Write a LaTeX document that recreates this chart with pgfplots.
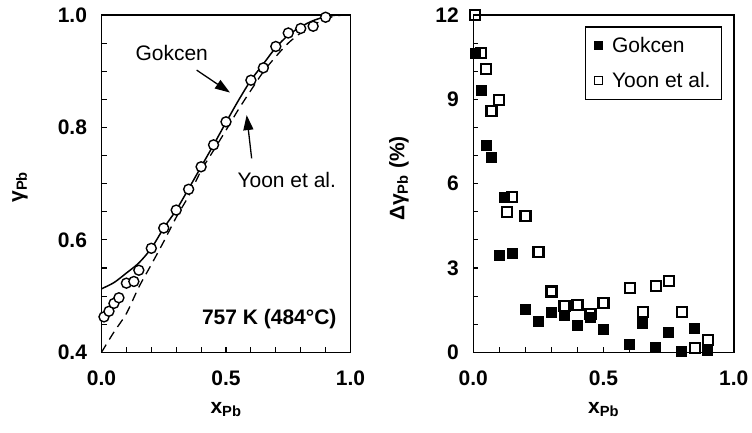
\documentclass[border=0pt]{standalone}
\usepackage{fontspec}
\setmainfont{Liberation Sans}
\usepackage{pgfplots}
\pgfplotsset{compat=1.18}
\usetikzlibrary{arrows.meta}

\newcommand{\lbl}{\fontsize{21}{25}\selectfont}

\pgfplotsset{
  panel/.style={
    scale only axis,
    height=337.3pt,
    axis line style={line width=1.6pt},
    tick pos=left, tick align=inside,
    major tick length=5pt, minor tick length=5pt,
    tick style={line width=1.1pt, black},
    minor tick style={line width=1.1pt, black},
    ticklabel style={font=\lbl\bfseries},
    /pgf/number format/assume math mode=true,
    label style={font=\lbl\bfseries},
    clip=false,
    xmin=0, xmax=1,
    xtick={0,0.5,1}, xticklabels={0.0,0.5,1.0},
    minor xtick={0.1,0.2,0.3,0.4,0.6,0.7,0.8,0.9},
    xticklabel style={yshift=-15pt},
    yticklabel style={xshift=-11pt},
    xlabel={x\textsubscript{Pb}},
    xlabel style={at={(axis description cs:0.5,0)}, anchor=base, yshift=-61pt},
  },
  gokcen/.style={only marks, mark=square*, mark size=5pt, black, mark options={fill=black, line width=1pt}},
  yoon/.style={only marks, mark=square, mark size=5pt, black, mark options={fill=white, line width=2.2pt}},
}

\begin{document}
\begin{tikzpicture}
% fixed page frame
\path (0,0) rectangle (752pt,432pt);

% activity coefficient of Pb at 757 K
\begin{axis}[panel,
  at={(101.5pt,79.7pt)}, anchor=south west,
  width=249pt,
  ymin=0.4, ymax=1.0,
  ytick={0.4,0.6,0.8,1.0}, yticklabels={0.4,0.6,0.8,1.0},
  minor ytick={0.45,0.5,0.55,0.65,0.7,0.75,0.85,0.9,0.95},
  ylabel={γ\textsubscript{Pb}},
  ylabel style={at={(axis description cs:-0.327,0.49)}, anchor=center},
]
% Gokcen
\addplot[line width=1.5pt, smooth, tension=0.5] coordinates {
  (0,0.513) (0.05,0.524) (0.1,0.541) (0.15,0.559) (0.2,0.585)
  (0.25,0.621) (0.3,0.653) (0.35,0.691) (0.4,0.730) (0.45,0.769)
  (0.5,0.809) (0.55,0.848) (0.6,0.884) (0.65,0.913) (0.7,0.942)
  (0.75,0.964) (0.8,0.979) (0.85,0.990) (0.9,0.997) (0.95,1.0) (1.0,1.0)
};
% Yoon et al.
\addplot[line width=1.3pt, dash pattern=on 9pt off 6pt, smooth, tension=0.5] coordinates {
  (0,0.400) (0.05,0.436) (0.1,0.469) (0.15,0.516) (0.2,0.556)
  (0.25,0.597) (0.3,0.640) (0.35,0.678) (0.4,0.723) (0.45,0.759)
  (0.5,0.795) (0.55,0.832) (0.6,0.866) (0.65,0.899) (0.7,0.926)
  (0.75,0.950) (0.8,0.968) (0.85,0.982) (0.9,0.993) (0.95,0.999) (1.0,1.0)
};
% experimental points
\addplot[only marks, mark=*, mark size=5pt, black, mark options={fill=white, line width=1.4pt}] coordinates {
  (0.01,0.463) (0.03,0.473) (0.05,0.487) (0.07,0.497) (0.1,0.523)
  (0.13,0.526) (0.15,0.546) (0.2,0.585) (0.25,0.621) (0.3,0.653)
  (0.35,0.690) (0.4,0.730) (0.45,0.769) (0.5,0.810) (0.6,0.884)
  (0.65,0.906) (0.7,0.944) (0.75,0.968) (0.8,0.976) (0.85,0.980) (0.9,0.996)
};
\node[font=\lbl] at (axis cs:0.282,0.933) {Gokcen};
\draw[line width=1.3pt, -{Triangle[length=15pt,width=10pt]}]
  (axis cs:0.382,0.902) -- (axis cs:0.516,0.862);
\node[font=\lbl] at (axis cs:0.744,0.706) {Yoon et al.};
\draw[line width=1.3pt, -{Triangle[length=15pt,width=10pt]}]
  (axis cs:0.603,0.745) -- (axis cs:0.583,0.822);
\node[font=\lbl\bfseries, anchor=base east] at (axis cs:0.958,0.450) {757 K (484°C)};
\end{axis}

% deviation of the calculated activity coefficients
\begin{axis}[panel,
  at={(473.3pt,79.7pt)}, anchor=south west,
  width=260.5pt,
  ymin=0, ymax=12,
  ytick={0,3,6,9,12}, yticklabels={0,3,6,9,12},
  minor ytick={1,2,4,5,7,8,10,11},
  ylabel={Δγ\textsubscript{Pb} (\%)},
  ylabel style={at={(axis description cs:-0.285,0.515)}, anchor=center},
  legend style={at={(axis description cs:0.956,0.967)}, anchor=north east,
    draw=black, line width=1.5pt, font=\lbl,
    inner xsep=9pt, inner ysep=8.5pt, row sep=14pt, column sep=7.5pt,
    nodes={inner sep=2pt}},
  legend cell align=left,
  legend image code/.code={
    \draw[#1] plot coordinates {(0pt,0pt)};
  },
]
\addlegendimage{only marks, mark=square*, mark size=4pt, black, mark options={fill=black, line width=0.8pt}}
\addlegendimage{only marks, mark=square, mark size=4pt, black, mark options={fill=white, line width=1.5pt}}
\addplot[yoon, forget plot] coordinates {
  (0.007,12.0) (0.03,10.64) (0.05,10.08) (0.07,8.59) (0.1,8.98)
  (0.13,4.98) (0.15,5.52) (0.2,4.86) (0.25,3.58) (0.3,2.16)
  (0.35,1.65) (0.4,1.68) (0.45,1.35) (0.5,1.74) (0.6,2.28)
  (0.65,1.44) (0.7,2.36) (0.75,2.55) (0.8,1.42) (0.85,0.14) (0.9,0.44)
};
\addplot[gokcen, forget plot] coordinates {
  (0.007,10.64) (0.03,9.31) (0.05,7.35) (0.07,6.94) (0.1,3.46)
  (0.12,5.52) (0.15,3.50) (0.2,1.53) (0.25,1.11) (0.3,1.42)
  (0.35,1.30) (0.4,0.95) (0.45,1.23) (0.5,0.82) (0.6,0.28)
  (0.65,1.03) (0.7,0.16) (0.75,0.71) (0.8,0.02) (0.85,0.85) (0.9,0.08)
};
\legend{Gokcen, Yoon et al.}
\end{axis}
\end{tikzpicture}
\end{document}
